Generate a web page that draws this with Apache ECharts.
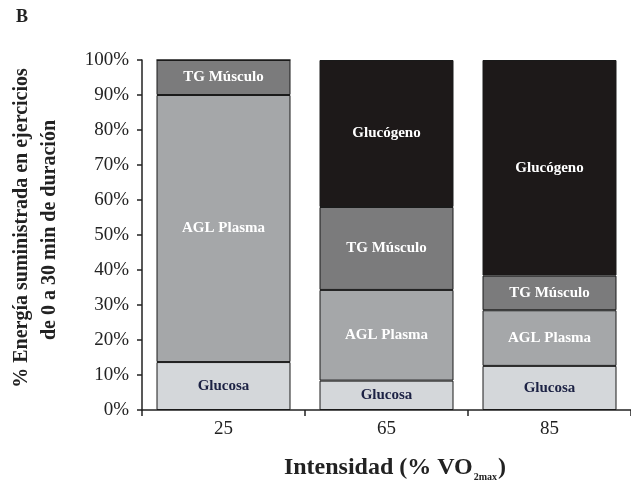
<!DOCTYPE html>
<html>
<head>
<meta charset="utf-8">
<script src="https://cdn.jsdelivr.net/npm/echarts@6/dist/echarts.min.js"></script>
<style>html,body{margin:0;padding:0;background:#fff}#c{width:631px;height:481px}</style>
</head>
<body>
<div id="c"></div>
<script>
var categories = ['25', '65', '85'];
var glucosa = [13.7, 8.4, 12.6];
var aglPlasma = [76.3, 25.9, 15.9];
var tgMusculo = [10.0, 23.7, 9.9];
var glucogeno = [0, 42.0, 61.6];
var yTicks = ['0%', '10%', '20%', '30%', '40%', '50%', '60%', '70%', '80%', '90%', '100%'];

var serif = '"Liberation Serif", "DejaVu Serif", serif';
var chart = echarts.init(document.getElementById('c'), null, {renderer: 'canvas'});

function mk(name, data, color, textColor) {
  return {
    name: name, type: 'bar', stack: 'total', data: data, barWidth: 134,
    itemStyle: {color: color, borderColor: '#1a1a1a', borderWidth: 1},
    label: {
      show: true, position: 'inside', formatter: function (p) { return p.value > 0 ? name : ''; },
      color: textColor, fontFamily: serif, fontWeight: 'bold', fontSize: 15
    },
    emphasis: {disabled: true}
  };
}

chart.setOption({
  animation: false,
  backgroundColor: '#fff',
  grid: {left: 142, top: 60, width: 495, bottom: 71, containLabel: false},
  xAxis: {
    type: 'category', data: categories,
    axisLine: {lineStyle: {color: '#222', width: 1.5}},
    axisTick: {show: true, length: 6, lineStyle: {color: '#222', width: 1.5}},
    axisLabel: {color: '#222', fontFamily: serif, fontSize: 19, margin: 10}
  },
  yAxis: {
    type: 'value', min: 0, max: 100, interval: 10,
    axisLine: {show: true, lineStyle: {color: '#222', width: 1.5}},
    axisTick: {show: true, length: 5, lineStyle: {color: '#222', width: 1.5}},
    splitLine: {show: false},
    axisLabel: {color: '#222', fontFamily: serif, fontSize: 19, margin: 13,
      formatter: function (v) { return yTicks[Math.round(v / 10)]; }}
  },
  series: [
    mk('Glucosa', glucosa, '#d4d7da', '#1c2244'),
    mk('AGL Plasma', aglPlasma, '#a5a7a9', '#ffffff'),
    mk('TG Músculo', tgMusculo, '#7b7b7c', '#ffffff'),
    mk('Glucógeno', glucogeno, '#1d1919', '#ffffff')
  ],
  graphic: [
    {type: 'text', left: 16, top: 8, style: {text: 'B', fontFamily: serif, fontWeight: 'bold', fontSize: 18, fill: '#222'}},
    {type: 'text', x: 22, y: 228, rotation: Math.PI / 2,
      style: {text: '% Energía suministrada en ejercicios', fontFamily: serif, fontWeight: 'bold', fontSize: 20, fill: '#222', align: 'center', verticalAlign: 'middle'}},
    {type: 'text', x: 50, y: 230, rotation: Math.PI / 2,
      style: {text: 'de 0 a 30 min de duración', fontFamily: serif, fontWeight: 'bold', fontSize: 20, fill: '#222', align: 'center', verticalAlign: 'middle'}},
    {type: 'text', x: 395, y: 468,
      style: {text: '{a|Intensidad (% VO}{b|2max}{a|)}', align: 'center', verticalAlign: 'middle',
        rich: {
          a: {fontFamily: serif, fontWeight: 'bold', fontSize: 24, fill: '#222', color: '#222'},
          b: {fontFamily: serif, fontWeight: 'bold', fontSize: 10, fill: '#222', color: '#222', padding: [18, 1, 0, 1]}
        }}}
  ]
});
</script>
</body>
</html>
